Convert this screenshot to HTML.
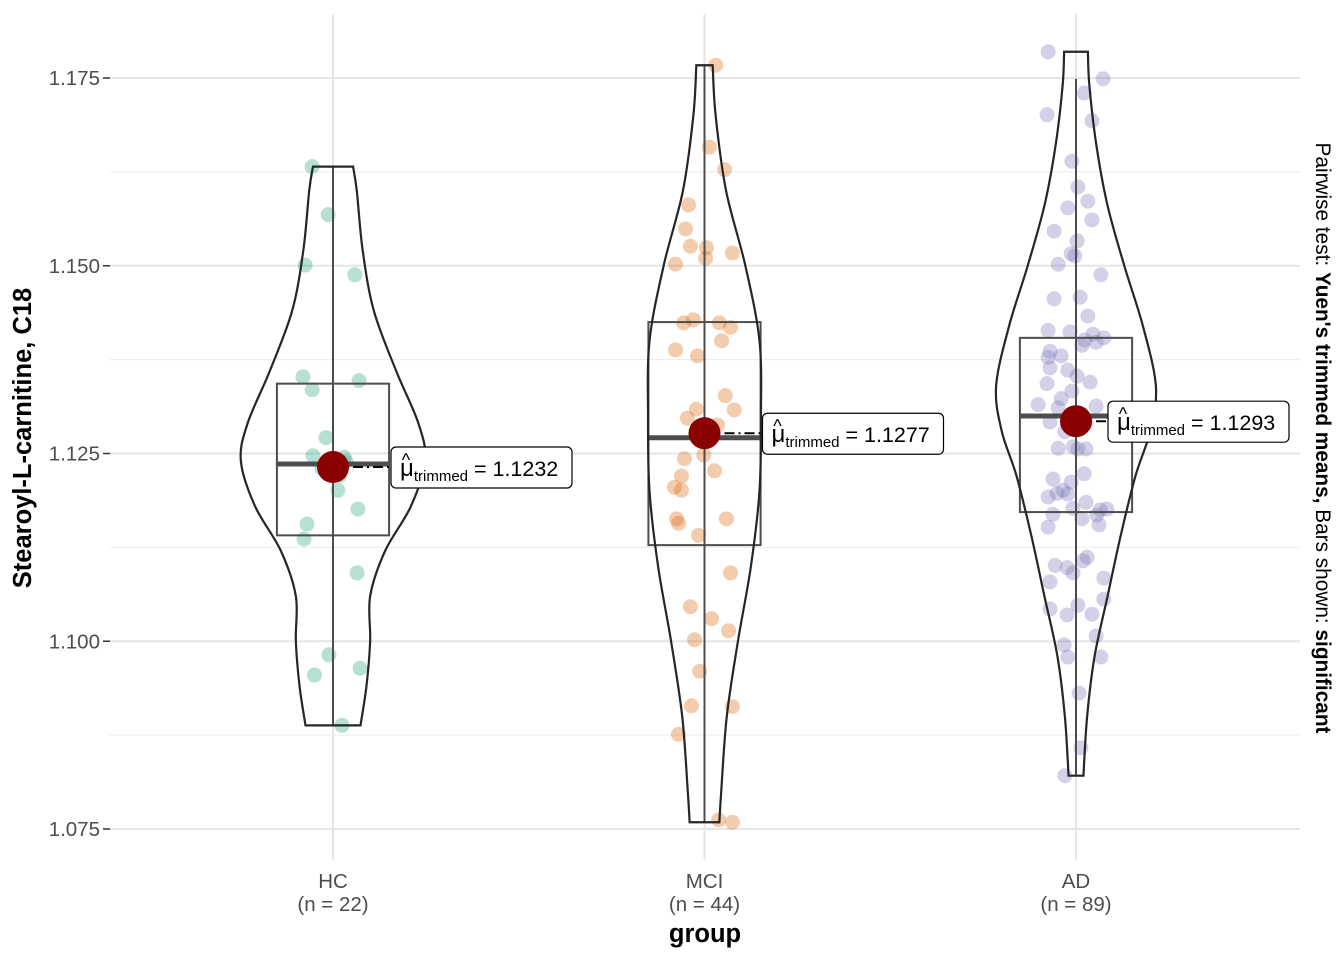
<!DOCTYPE html>
<html><head><meta charset="utf-8"><style>
body{margin:0;background:#fff}
svg{display:block;font-family:"Liberation Sans",Arial,sans-serif}
</style></head><body>
<svg id="chart" width="1344" height="960" viewBox="0 0 1344 960">
<g id="grid"></g>
<g id="marks"></g>
<g id="axes"></g>
<text transform="translate(31,438) rotate(-90)" text-anchor="middle" font-size="25.5" font-weight="bold">Stearoyl-L-carnitine, C18</text>
<text x="705" y="942" text-anchor="middle" font-size="25.5" font-weight="bold">group</text>
<text transform="translate(1316,438) rotate(90)" text-anchor="middle" font-size="20.8">Pairwise test: <tspan font-weight="bold">Yuen's trimmed means,</tspan> Bars shown: <tspan font-weight="bold">significant</tspan></text>
</svg>
<script>
const categories=["HC","MCI","AD"];
const counts=[22,44,89];
const yTicks=[1.075,1.100,1.125,1.150,1.175];
const yTickLabels=["1.075","1.100","1.125","1.150","1.175"];
const means=[1.1232,1.1277,1.1293];
const meanLabels=["1.1232","1.1277","1.1293"];
const boxQ1=[1.1141,1.1128,1.1172];
const boxMed=[1.1236,1.1271,1.1300];
const boxQ3=[1.1343,1.1425,1.1404];
const whiskLo=[1.0888,1.0759,1.0821];
const whiskHi=[1.1632,1.1767,1.1749];
const hcValues=[1.1632,1.1568,1.1501,1.1488,1.1352,1.1335,1.1347,1.1271,1.1247,1.1239,1.1221,1.1201,1.1176,1.1156,1.1136,1.1091,1.0982,1.0964,1.0955,1.0888,1.1245,1.1230];
const hcJitter=[-0.056,-0.013,-0.075,0.059,-0.081,-0.056,0.07,-0.019,-0.054,0.035,0.019,0.013,0.067,-0.07,-0.078,0.065,-0.011,0.073,-0.05,0.024,0.03,-0.03];
const mciValues=[1.1767,1.1658,1.1628,1.1581,1.1549,1.1526,1.1524,1.1510,1.1502,1.1517,1.1428,1.1424,1.1424,1.1418,1.1400,1.1388,1.1380,1.1327,1.1309,1.1297,1.1288,1.1243,1.1220,1.1227,1.1205,1.1201,1.1163,1.1163,1.1157,1.1141,1.1091,1.1046,1.1030,1.1014,1.1002,1.0960,1.0914,1.0913,1.0876,1.0762,1.0759,1.1308,1.1272,1.1248];
const mciJitter=[0.03,0.013,0.054,-0.043,-0.051,-0.038,0.005,0.003,-0.078,0.075,-0.03,-0.056,0.04,0.07,0.046,-0.078,-0.019,0.056,-0.022,-0.046,0.035,-0.054,-0.062,0.027,-0.081,-0.062,0.059,-0.075,-0.07,-0.016,0.07,-0.038,0.019,0.065,-0.027,-0.013,-0.035,0.075,-0.07,0.038,0.075,0.08,0.005,-0.002];
const adValues=[1.1785,1.1749,1.1730,1.1701,1.1693,1.1639,1.1605,1.1586,1.1577,1.1561,1.1546,1.1533,1.1516,1.1513,1.1502,1.1488,1.1458,1.1456,1.1433,1.1414,1.1412,1.1404,1.1409,1.1394,1.1386,1.1380,1.1378,1.1398,1.1401,1.1361,1.1364,1.1353,1.1345,1.1343,1.1333,1.1323,1.1311,1.1313,1.1315,1.1292,1.1291,1.1279,1.1259,1.1256,1.1257,1.1256,1.1223,1.1216,1.1212,1.1201,1.1197,1.1192,1.1196,1.1185,1.1177,1.1175,1.1176,1.1168,1.1169,1.1163,1.1155,1.1152,1.1101,1.1112,1.1107,1.1098,1.1091,1.1079,1.1084,1.1043,1.1048,1.1035,1.1056,1.1036,1.1007,1.0995,1.0979,1.0979,1.0931,1.0858,1.0821];
const adJitter=[-0.075,0.073,0.022,-0.078,0.043,-0.011,0.005,0.032,-0.022,0.043,-0.059,0.003,-0.013,-0.003,-0.048,0.067,0.011,-0.059,0.032,-0.075,-0.016,0.075,0.046,0.016,-0.07,-0.04,-0.075,0.054,0.024,-0.022,-0.07,0.003,0.038,-0.078,-0.011,-0.04,-0.048,0.054,-0.102,-0.07,0.027,-0.03,-0.008,0.005,-0.048,0.027,0.022,-0.062,-0.013,-0.035,-0.051,-0.075,-0.022,0.027,-0.008,0.065,0.083,0.056,-0.062,0.016,0.062,-0.075,-0.056,0.03,0.019,-0.024,-0.008,-0.07,0.075,-0.07,0.005,-0.024,0.075,0.043,0.054,-0.032,-0.022,0.067,0.008,0.013,-0.03];
const hcViolinV=[1.1632,1.1600,1.1520,1.1440,1.1360,1.1290,1.1240,1.1180,1.1120,1.1060,1.1000,1.0940,1.0888];
const hcViolinW=[0.054,0.064,0.08,0.11,0.17,0.23,0.248,0.21,0.14,0.1,0.1,0.09,0.074];
const mciViolinV=[1.1767,1.1700,1.1600,1.1500,1.1400,1.1300,1.1200,1.1100,1.1000,1.0900,1.0800,1.0759];
const mciViolinW=[0.022,0.03,0.058,0.11,0.148,0.152,0.148,0.125,0.09,0.06,0.045,0.04];
const adViolinV=[1.1785,1.1740,1.1660,1.1580,1.1500,1.1420,1.1340,1.1280,1.1220,1.1140,1.1060,1.0980,1.0900,1.0821];
const adViolinW=[0.032,0.036,0.055,0.085,0.13,0.18,0.215,0.2,0.16,0.12,0.085,0.05,0.03,0.02];
const groupValues=[hcValues,mciValues,adValues];
const groupJitter=[hcJitter,mciJitter,adJitter];
const violinV=[hcViolinV,mciViolinV,adViolinV];
const violinW=[hcViolinW,mciViolinW,adViolinW];
const labelGap=[58,58,32];
const colors=["#1b9e77","#d95f02","#7570b3"];

const NS="http://www.w3.org/2000/svg";
const y0v=1.075,y1v=1.175,y0p=829,y1p=78;
function y(v){return y0p+(v-y0v)/(y1v-y0v)*(y1p-y0p);}
const bandPx=371.5;
function x(i,off){return 333+i*bandPx+(off||0)*bandPx;}
function mk(tag,attrs,parent){const e=document.createElementNS(NS,tag);for(const k in attrs)e.setAttribute(k,attrs[k]);parent.appendChild(e);return e;}
const grid=document.getElementById('grid'),marks=document.getElementById('marks'),axes=document.getElementById('axes');
for(let i=0;i<yTicks.length-1;i++){const v=(yTicks[i]+yTicks[i+1])/2;const l=mk('line',{x1:110,x2:1300,y1:y(v),y2:y(v),stroke:'#ebebeb','stroke-width':1},grid);

}
yTicks.forEach((v,i)=>{const l=mk('line',{x1:110,x2:1300,y1:y(v),y2:y(v),stroke:'#e5e5e5','stroke-width':2},grid);


const tk=mk('line',{x1:103,x2:110,y1:y(v),y2:y(v),stroke:'#333','stroke-width':1.5},axes);


const t=mk('text',{x:100,y:y(v)+7,'text-anchor':'end','font-size':20.5,fill:'#4d4d4d'},axes);t.textContent=yTickLabels[i];

});
categories.forEach((c,i)=>{const l=mk('line',{x1:x(i),x2:x(i),y1:14,y2:860,stroke:'#e5e5e5','stroke-width':2},grid);


const t=mk('text',{x:x(i),y:888,'text-anchor':'middle','font-size':20.5,fill:'#4d4d4d'},axes);t.textContent=c;


const t2=mk('text',{x:x(i),y:911,'text-anchor':'middle','font-size':20.5,fill:'#4d4d4d'},axes);t2.textContent='(n = '+counts[i]+')';

});
function smooth(pts){let d='M'+pts[0][0]+','+pts[0][1];for(let i=0;i<pts.length-1;i++){const p0=pts[Math.max(0,i-1)],p1=pts[i],p2=pts[i+1],p3=pts[Math.min(pts.length-1,i+2)];
const c1=[p1[0]+(p2[0]-p0[0])/6,p1[1]+(p2[1]-p0[1])/6],c2=[p2[0]-(p3[0]-p1[0])/6,p2[1]-(p3[1]-p1[1])/6];d+=' C'+c1+' '+c2+' '+p2;}return d;}
categories.forEach((c,i)=>{
 const g=mk('g',{},marks);
 
 
 groupValues[i].forEach((v,j)=>{const p=mk('circle',{cx:x(i,groupJitter[i][j]),cy:y(v),r:7.5,fill:colors[i],'fill-opacity':0.32},g);
 
 });
 const bw=0.151;
 const wl=mk('line',{x1:x(i),x2:x(i),y1:y(whiskHi[i]),y2:y(whiskLo[i]),stroke:'#4d4d4d','stroke-width':2},g);
 
 
 const b=mk('rect',{x:x(i,-bw),width:x(i,bw)-x(i,-bw),y:y(boxQ3[i]),height:y(boxQ1[i])-y(boxQ3[i]),fill:'none',stroke:'#4d4d4d','stroke-width':2},g);
 
 
 const m=mk('line',{x1:x(i,-bw),x2:x(i,bw),y1:y(boxMed[i]),y2:y(boxMed[i]),stroke:'#4d4d4d','stroke-width':5},g);
 
 
 const V=violinV[i],W=violinW[i];
 const right=V.map((v,k)=>[x(i,W[k]),y(v)]),left=V.map((v,k)=>[x(i,-W[k]),y(v)]).reverse();
 let d=smooth(right)+' L'+left[0]+' '+smooth(left).slice(1).replace(/^[^C]*/,'')+' Z';
 const vp=mk('path',{d:d,fill:'none',stroke:'#262626','stroke-width':2.2},g);
 
 
 const ym=y(means[i]),lx=x(i)+labelGap[i];
 const dl=mk('line',{x1:x(i),x2:lx,y1:ym,y2:ym,stroke:'#000','stroke-width':2,'stroke-dasharray':'10,4,2,4'},g);
 
 
 const dot=mk('circle',{cx:x(i),cy:ym,r:16,fill:'#8b0000'},g);
 
 
 const lb=mk('rect',{x:lx,y:ym-20,width:181,height:41,rx:5,fill:'#fff',stroke:'#000','stroke-width':1.2},g);
 
 
 const t=mk('text',{x:lx+9,y:ym+9,'font-size':21.5},g);
 
 
 t.innerHTML='<tspan font-size="24">μ</tspan><tspan font-size="15" dy="5">trimmed</tspan><tspan dy="-5"> = '+meanLabels[i]+'</tspan>';
 const hat=mk('text',{x:lx+15,y:ym-1,'font-size':18,'text-anchor':'middle'},g);
 
 
 hat.textContent='^';
});
</script>
</body></html>
